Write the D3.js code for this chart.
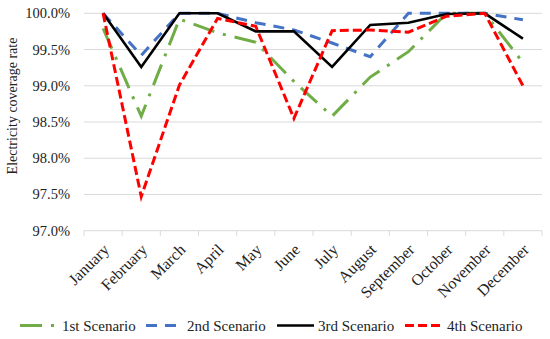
<!DOCTYPE html>
<html><head><meta charset="utf-8">
<script src="https://cdn.jsdelivr.net/npm/d3@7"></script>
<style>body{margin:0;background:#fff;} svg{display:block;}</style>
</head><body><svg id="c" width="550" height="339"></svg>
<script>
const months = ["January","February","March","April","May","June","July","August","September","October","November","December"];
const s1 = [99.79,98.58,99.92,99.73,99.60,99.06,98.58,99.12,99.47,100.0,100.0,99.32];
const s2 = [100.0,99.42,100.0,100.0,99.87,99.77,99.59,99.40,100.0,100.0,100.0,99.91];
const s3 = [100.0,99.26,100.0,100.0,99.75,99.75,99.26,99.84,99.87,99.99,100.0,99.65];
const s4 = [100.0,97.47,99.01,99.93,99.82,98.55,99.76,99.77,99.74,99.96,100.0,99.00];
const seriesNames = ["1st Scenario","2nd Scenario","3rd Scenario","4th Scenario"];
const yTicks = [97.0,97.5,98.0,98.5,99.0,99.5,100.0];

const FONT = "'Liberation Serif','Times New Roman','DejaVu Serif',serif";
const svg = d3.select("#c").attr("font-family",FONT);
const L=84,R=542,T=13.3,B=230.7;
const x = d3.scaleBand().domain(months).range([L,R]).padding(0);
const y = d3.scaleLinear().domain([97,100]).range([B,T]);

svg.append("g").selectAll("line").data(yTicks.slice(1)).join("line")
  .attr("x1",L).attr("x2",R).attr("y1",d=>y(d)).attr("y2",d=>y(d))
  .attr("stroke","#d9d9d9").attr("stroke-width",1);
svg.append("g").selectAll("text").data(yTicks).join("text")
  .attr("x",70).attr("y",d=>y(d)+5).attr("text-anchor","end")
  .attr("font-family",FONT).attr("fill","#222")
  .attr("font-size",14.5).text(d=>d.toFixed(1)+"%");
svg.append("line").attr("x1",L).attr("x2",R).attr("y1",B).attr("y2",B).attr("stroke","#d9d9d9").attr("stroke-width",1);
const bounds = months.map(m=>x(m)).concat([R]);
svg.append("g").selectAll("line").data(bounds).join("line")
  .attr("x1",d=>d).attr("x2",d=>d).attr("y1",B).attr("y2",B+5).attr("stroke","#d9d9d9");
svg.append("g").selectAll("text").data(months).join("text")
  .attr("text-anchor","end").attr("font-size",16)
  .attr("font-family",FONT).attr("fill","#222")
  .attr("transform",d=>`translate(${x(d)+x.bandwidth()/2+7},${B+20}) rotate(-45)`)
  .text(d=>d);
svg.append("text").attr("transform",`translate(17,106) rotate(-90)`)
  .attr("font-family",FONT).attr("fill","#222")
  .attr("text-anchor","middle").attr("font-size",14).text("Electricity coverage rate");

const styles = [
  {data:s1,color:"#70AD47",dash:"22,9,3,9",w:3},
  {data:s2,color:"#4472C4",dash:"11,8",w:3},
  {data:s3,color:"#000000",dash:null,w:2.6},
  {data:s4,color:"#FF0000",dash:"9,4",w:3}
];
const line = d3.line().x((d,i)=>x(months[i])+x.bandwidth()/2).y(d=>y(d));
styles.forEach(s=>{
  svg.append("path").datum(s.data).attr("d",line).attr("fill","none")
    .attr("stroke",s.color).attr("stroke-width",s.w)
    .attr("stroke-dasharray",s.dash).attr("stroke-linejoin","miter");
});
const lg = [{x:20,tx:62},{x:146,tx:187},{x:277,tx:318},{x:405,tx:447}];
const ly = 325.5;
styles.forEach((s,i)=>{
  svg.append("line").attr("x1",lg[i].x).attr("x2",lg[i].tx-4).attr("y1",ly).attr("y2",ly)
    .attr("stroke",s.color).attr("stroke-width",s.w).attr("stroke-dasharray",s.dash);
  svg.append("text").attr("x",lg[i].tx).attr("y",ly+5).attr("font-size",15)
    .attr("font-family",FONT).attr("fill","#222").text(seriesNames[i]);
});
</script></body></html>
